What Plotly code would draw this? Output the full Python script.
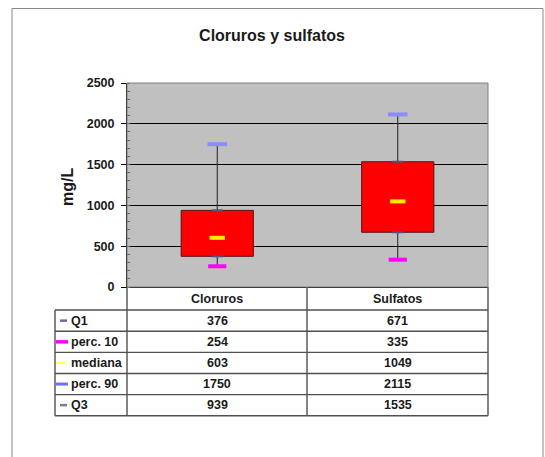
import plotly.graph_objects as go

categories = ["Cloruros", "Sulfatos"]
q1 = [376, 671]
perc10 = [254, 335]
mediana = [603, 1049]
perc90 = [1750, 2115]
q3 = [939, 1535]
series_names = ["Q1", "perc. 10", "mediana", "perc. 90", "Q3"]
y_ticks = [0, 500, 1000, 1500, 2000, 2500]

W, H = 545, 457
FONT = "Arial, Liberation Sans, sans-serif"
TXT = "#1a1a1a"

def px_x(v):
    return v / W

def px_y(v):
    return 1 - v / H

fig = go.Figure()

# Box body (Q1..Q3) as a floating bar
fig.add_trace(go.Bar(
    x=categories, y=[b - a for a, b in zip(q1, q3)], base=q1,
    width=0.4, marker=dict(color="#ff0000", line=dict(color="#5a1010", width=1)),
    showlegend=False, hoverinfo="skip"))

# Whiskers
for i, c in enumerate(categories):
    fig.add_trace(go.Scatter(x=[c, c], y=[q3[i], perc90[i]], mode="lines",
                             line=dict(color="#202020", width=1), showlegend=False, hoverinfo="skip"))
    fig.add_trace(go.Scatter(x=[c, c], y=[q1[i], perc10[i]], mode="lines",
                             line=dict(color="#202020", width=1), showlegend=False, hoverinfo="skip"))

# Markers for each statistic
stats = [q1, perc10, mediana, perc90, q3]
sizes = [8, 13, 11, 14, 8]
widths = [2, 4, 4, 4, 2]
mcolors = ["#50508a", "#ff00ff", "#ffee00", "#8c8cff", "#5a5070"]
for name, vals, col, s, w in zip(series_names, stats, mcolors, sizes, widths):
    fig.add_trace(go.Scatter(
        x=categories, y=vals, mode="markers", name=name,
        marker=dict(symbol="line-ew-open", size=s, color=col, line=dict(color=col, width=w)),
        showlegend=False, hoverinfo="skip"))

# ---- Data table drawn under the plot (lines as shapes, text as annotations)
col_x = [55, 127, 307, 488]          # column borders (px)
row_y = [287, 310, 331.3, 352.4, 373.5, 394.6, 415.7]  # header + 5 rows (px)
LINE = dict(color="#505050", width=1.4)
key_colors = ["#6a6aa8", "#ff00ff", "#ffff66", "#7070ff", "#7a7a90"]
key_x = [(60, 67), (56, 68), (56, 66), (56, 68), (60, 67)]
key_w = [2.5, 3.5, 2.5, 3, 2.5]

shapes = []
annotations = []
for yy in row_y[1:]:
    shapes.append(dict(type="line", xref="paper", yref="paper",
                       x0=px_x(col_x[0]), x1=px_x(col_x[-1]), y0=px_y(yy), y1=px_y(yy), line=LINE))
shapes.append(dict(type="line", xref="paper", yref="paper", x0=px_x(col_x[0]), x1=px_x(col_x[0]),
                   y0=px_y(row_y[1]), y1=px_y(row_y[-1]), line=LINE))
for xx in col_x[1:]:
    shapes.append(dict(type="line", xref="paper", yref="paper", x0=px_x(xx), x1=px_x(xx),
                       y0=px_y(row_y[0]), y1=px_y(row_y[-1]), line=LINE))

for k, c in enumerate(categories):
    annotations.append(dict(x=px_x((col_x[k + 1] + col_x[k + 2]) / 2),
                            y=px_y((row_y[0] + row_y[1]) / 2), xref="paper", yref="paper",
                            text="<b>%s</b>" % c, showarrow=False, xanchor="center", yanchor="middle",
                            font=dict(family=FONT, size=12.5, color=TXT)))
for r, (name, vals) in enumerate(zip(series_names, stats)):
    yc = (row_y[r + 1] + row_y[r + 2]) / 2
    annotations.append(dict(x=px_x(69), y=px_y(yc), xref="paper", yref="paper",
                            text="<b>%s</b>" % name, showarrow=False, xanchor="left", yanchor="middle",
                            font=dict(family=FONT, size=12.5, color=TXT)))
    shapes.append(dict(type="line", xref="paper", yref="paper",
                       x0=px_x(key_x[r][0]), x1=px_x(key_x[r][1]), y0=px_y(yc), y1=px_y(yc),
                       line=dict(color=key_colors[r], width=key_w[r])))
    for k in range(len(categories)):
        annotations.append(dict(x=px_x((col_x[k + 1] + col_x[k + 2]) / 2), y=px_y(yc),
                                xref="paper", yref="paper", text="<b>%d</b>" % vals[k],
                                showarrow=False, xanchor="center", yanchor="middle",
                                font=dict(family=FONT, size=12.5, color=TXT)))

annotations.append(dict(x=px_x(67), y=px_y(187), xref="paper", yref="paper", text="<b>mg/L</b>",
                        textangle=-90, showarrow=False, xanchor="center", yanchor="middle",
                        font=dict(family=FONT, size=16, color=TXT)))

shapes.append(dict(type="rect", xref="x domain", yref="y domain", x0=0, x1=1, y0=0, y1=1,
                   line=dict(color="#808080", width=1), layer="above"))
shapes.append(dict(type="rect", xref="paper", yref="paper", x0=px_x(12), x1=px_x(543),
                   y0=px_y(462), y1=px_y(8.5), line=dict(color="#8a8a8a", width=1)))

fig.update_layout(
    width=W, height=H, margin=dict(l=0, r=0, t=0, b=0, autoexpand=False),
    paper_bgcolor="white", plot_bgcolor="#c0c0c0",
    font=dict(family=FONT, color=TXT),
    title=dict(text="<b>Cloruros y sulfatos</b>", x=px_x(272), xanchor="center",
               y=px_y(35), yanchor="middle", font=dict(size=16, color=TXT)),
    xaxis=dict(domain=[px_x(127), px_x(488)], range=[-0.5, 1.5], showticklabels=False,
               showgrid=False, showline=True, linecolor="#000000", ticks="", zeroline=False,
               automargin=False, fixedrange=True),
    yaxis=dict(domain=[px_y(287), px_y(83)], range=[0, 2500], tickmode="array",
               tickvals=y_ticks, ticktext=["<b>%d</b>" % v for v in y_ticks],
               showgrid=True, gridcolor="#000000", gridwidth=1, zeroline=False,
               showline=True, linecolor="#000000", ticks="outside", ticklen=5,
               tickcolor="#000000", tickfont=dict(size=12.5, family=FONT, color=TXT),
               ticklabelstandoff=4, automargin=False, fixedrange=True,
               minor=dict(tickmode="linear", tick0=0, dtick=100, ticks="inside",
                          ticklen=3, tickcolor="#666666", showgrid=False)),
    annotations=annotations,
    shapes=shapes,
)

fig.write_html("out.html", config={"displayModeBar": False},
               post_script="document.body.style.margin='0px';")
